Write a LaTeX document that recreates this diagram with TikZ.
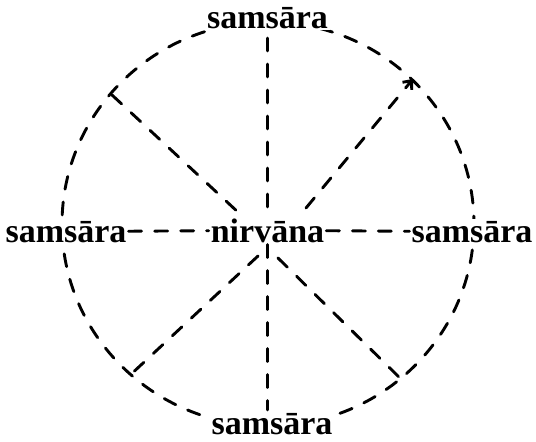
\documentclass[tikz,border=0pt]{standalone}
\usepackage{fontspec}
\setmainfont{Liberation Serif}
\usetikzlibrary{arrows.meta}
\begin{document}
\begin{tikzpicture}[x=1pt,y=-1pt,
  dsh/.style={line width=2.9pt,line cap=round,dash pattern=on 13pt off 13pt},
  lbl/.style={font=\fontsize{34}{38}\selectfont\bfseries,inner sep=2pt,fill=white,anchor=base}]
\useasboundingbox (0,0) rectangle (536,442);
\draw[dsh] (268,224) ellipse [x radius=206, y radius=202];
\node[lbl] (top) at (267.5,28) {samsāra};
\node[lbl] (left) at (66,242) {samsāra};
\node[lbl] (right) at (472,242) {samsāra};
\node[lbl] (bottom) at (272,434) {samsāra};
\node[lbl,fill=none] (nir) at (267.5,242) {nirvāna};
\coordinate (ne) at (413,79);
\coordinate (nw) at (112,95);
\coordinate (sw) at (127,378);
\coordinate (se) at (402,380);
\coordinate (c) at (268,236);
\coordinate (vt) at (267.5,38);
\coordinate (vb) at (267.5,410);
\draw[dsh] (vt) -- (nir.north);
\draw[dsh] (nir.south) -- (vb);
\draw[dsh] (left) -- (nir);
\draw[dsh] (nir) -- (right);
\draw[dsh,-{Straight Barb[length=7pt,width=12pt]}] ([shift={(38,-28)}]c) -- (ne);
\draw[dsh] (nw) -- ([shift={(-28,-22)}]c);
\draw[dsh] ([shift={(-10,20)}]c) -- (sw);
\draw[dsh] ([shift={(10,22)}]c) -- (se);
\end{tikzpicture}
\end{document}
